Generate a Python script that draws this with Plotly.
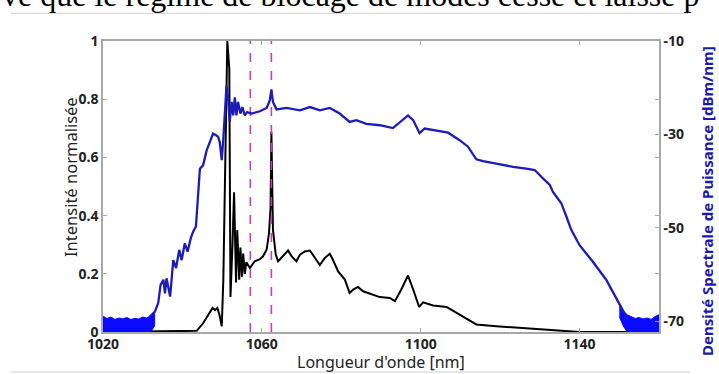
import plotly.graph_objects as go

# ---------------- data ----------------
wl_black = [1020, 1043.6, 1045.2, 1046.9, 1047.6, 1048.2, 1048.8, 1049.3, 1049.9, 1050.3,
            1050.8, 1051.3, 1051.8, 1052.1, 1052.6, 1053.0, 1053.5, 1053.8, 1054.3, 1054.6,
            1055.0, 1055.3, 1055.7, 1056.1, 1057.0, 1058.2, 1059.5, 1060.3, 1061.2, 1061.8,
            1062.2, 1062.4, 1062.8, 1063.5, 1064.1, 1064.9, 1065.8, 1066.6, 1067.5, 1068.7,
            1069.6, 1070.8, 1072.1, 1073.3, 1074.6, 1075.8, 1077.1, 1077.9, 1079.2, 1080.9,
            1082.1, 1083.0, 1084.2, 1085.5, 1087.2, 1089.7, 1092.2, 1093.5, 1095.1, 1096.8,
            1098.1, 1099.6, 1100.6, 1103.1, 1106.5, 1109.8, 1114.0, 1119.0, 1124.9, 1129.9,
            1135.0, 1140, 1160]
int_black = [0, 0.004, 0.03, 0.066, 0.083, 0.075, 0.083, 0.06, 0.02, 0.18,
             0.6, 1.0, 0.905, 0.12, 0.3, 0.48, 0.17, 0.35, 0.18, 0.29,
             0.19, 0.27, 0.20, 0.24, 0.22, 0.243, 0.25, 0.26, 0.283, 0.34,
             0.43, 0.688, 0.35, 0.266, 0.243, 0.254, 0.266, 0.28, 0.26, 0.243,
             0.266, 0.277, 0.28, 0.254, 0.23, 0.254, 0.269, 0.248, 0.208, 0.18,
             0.134, 0.146, 0.155, 0.14, 0.132, 0.12, 0.117, 0.106, 0.146, 0.194,
             0.146, 0.086, 0.102, 0.091, 0.086, 0.06, 0.026, 0.02, 0.014, 0.009,
             0.003, 0, 0]

wl_blue = [1031.8, 1033.1, 1033.9, 1034.5, 1035.2, 1035.6, 1036.0, 1036.9, 1037.7, 1038.4,
           1039.2, 1039.8, 1040.6, 1041.3, 1042.1, 1042.7, 1043.4, 1043.8, 1044.2, 1044.4,
           1045.2, 1046.1, 1046.9, 1047.7, 1048.4, 1049.0, 1049.4, 1049.9, 1050.3, 1050.7,
           1051.1, 1051.5, 1051.9, 1052.4, 1052.8, 1053.2, 1053.6, 1054.0, 1054.6, 1055.1,
           1055.7, 1056.3, 1057.4, 1059.5, 1061.2, 1062.0, 1062.4, 1062.8, 1063.7, 1066.2,
           1069.6, 1072.1, 1074.6, 1077.1, 1079.6, 1082.1, 1083.8, 1086.3, 1089.7, 1093.0,
           1094.7, 1096.8, 1098.1, 1099.7, 1101.0, 1103.9, 1106.9, 1109.8, 1111.9, 1114.0,
           1115.7, 1119.0, 1123.2, 1126.6, 1128.7, 1130.8, 1132.5, 1133.3, 1135.4, 1136.7,
           1137.9, 1140.0, 1143.3, 1146.7, 1149.2, 1150.9, 1152.2]
dsp_blue = [-69.0, -67.9, -66.1, -62.2, -61.1, -64.0, -60.8, -64.7, -56.9, -58.6,
            -54.7, -56.9, -53.3, -55.1, -52.2, -50.8, -49.7, -45.5, -39.8, -37.3,
            -36.6, -33.4, -31.6, -29.8, -30.1, -30.5, -31.6, -35.5, -30.9, -25.9,
            -19.5, -22.3, -27.3, -23.0, -25.9, -22.0, -25.9, -23.0, -25.5, -24.1,
            -25.9, -25.2, -25.5, -25.0, -24.3, -22.7, -20.4, -23.0, -24.6, -24.3,
            -24.8, -24.1, -24.8, -24.3, -25.5, -27.3, -26.9, -27.7, -28.0, -28.6,
            -27.4, -25.9, -26.9, -29.7, -28.7, -29.2, -29.6, -31.2, -32.6, -35.3,
            -35.7, -36.2, -36.9, -37.3, -37.6, -39.4, -40.8, -42.3, -44.7, -47.6,
            -50.4, -53.7, -57.2, -61.1, -65.0, -67.9, -69.7]

# noise floor envelopes (blue band)
noise_left_wl = [1020, 1021, 1022, 1023, 1024, 1025, 1026, 1027, 1028, 1029, 1030, 1031, 1032, 1033]
noise_left_hi = [-68.9, -69.4, -69.1, -69.6, -69.3, -69.5, -69.2, -69.6, -69.4, -69.5, -69.1, -69.3, -68.8, -68.0]
noise_left_lo = [-72.3, -72.3, -72.3, -72.3, -72.3, -72.3, -72.3, -72.3, -72.3, -72.3, -72.3, -72.3, -72.3, -71.0]
noise_right_wl = [1150, 1151, 1152, 1153, 1154, 1155, 1156, 1157, 1158, 1159, 1160]
noise_right_hi = [-66.5, -67.8, -68.6, -69.0, -69.4, -69.2, -69.5, -69.3, -69.6, -69.0, -68.6]
noise_right_lo = [-69.0, -71.0, -72.3, -72.3, -72.3, -72.3, -72.3, -72.3, -72.3, -72.3, -72.3]

laser_lines = [1057.1, 1062.4]

x_ticks = [1020, 1060, 1100, 1140]
y_ticks = [0, 0.2, 0.4, 0.6, 0.8, 1]
y_tick_labels = ["0", "0.2", "0.4", "0.6", "0.8", "1"]
y2_ticks = [-10, -30, -50, -70]

x_title = "Longueur d'onde [nm]"
y_title = "Intensité normalisée"
y2_title = "Densité Spectrale de Puissance [dBm/nm]"
top_text = "ve que le régime de blocage de modes cesse et laisse p"

# ---------------- figure ----------------
BLUE = "#1c1cb8"
NOISE = "#0a0aff"
AX = "#a8a8a8"
W, H = 719, 374
L, R, T, B = 103, 60, 41, 42
pw, ph = W - L - R, H - T - B

def px_x(p):
    return (p - L) / pw

def px_y(p):
    return (H - B - p) / ph

fig = go.Figure()

fig.add_trace(go.Scatter(x=wl_black, y=int_black, mode="lines",
                         line=dict(color="black", width=2), yaxis="y", hoverinfo="skip"))

for v in laser_lines:
    fig.add_trace(go.Scatter(x=[v, v], y=[0, 1], mode="lines",
                             line=dict(color="#c63cc6", width=1.6, dash="dash"),
                             yaxis="y", hoverinfo="skip"))

fig.add_trace(go.Scatter(x=noise_left_wl + noise_left_wl[::-1],
                         y=noise_left_hi + noise_left_lo[::-1],
                         fill="toself", fillcolor=NOISE, mode="lines",
                         line=dict(color=NOISE, width=1), yaxis="y2", hoverinfo="skip"))
fig.add_trace(go.Scatter(x=noise_right_wl + noise_right_wl[::-1],
                         y=noise_right_hi + noise_right_lo[::-1],
                         fill="toself", fillcolor=NOISE, mode="lines",
                         line=dict(color=NOISE, width=1), yaxis="y2", hoverinfo="skip"))
fig.add_trace(go.Scatter(x=wl_blue, y=dsp_blue, mode="lines",
                         line=dict(color=BLUE, width=2.3), yaxis="y2", hoverinfo="skip"))

tickfont = dict(family="Noto Sans", size=14, color="#222222", weight="bold")

fig.update_layout(
    width=W, height=H,
    margin=dict(l=L, r=R, t=T, b=B, pad=0),
    paper_bgcolor="white", plot_bgcolor="white",
    showlegend=False,
    xaxis=dict(range=[1020, 1160], tickvals=x_ticks, ticktext=[str(v) for v in x_ticks],
               showgrid=False, zeroline=False, showline=True, linecolor=AX, linewidth=1.5,
               mirror="ticks", ticks="inside", ticklen=4, tickcolor=AX, tickfont=tickfont,
               ticklabelstandoff=-2),
    yaxis=dict(range=[0, 1], tickvals=y_ticks, ticktext=y_tick_labels,
               showgrid=False, zeroline=False, showline=True, linecolor=AX, linewidth=1.5,
               mirror="ticks", ticks="inside", ticklen=4, tickcolor=AX, tickfont=tickfont,
               ticklabelstandoff=0),
    yaxis2=dict(range=[-72.3, -9.95], tickvals=y2_ticks, ticktext=[str(v) for v in y2_ticks],
                overlaying="y", side="right", showgrid=False, zeroline=False,
                showline=True, linecolor=AX, linewidth=1.5, ticks="inside", ticklen=4,
                tickcolor=AX, tickfont=tickfont, ticklabelstandoff=0),
)

# axis titles as annotations for exact placement
fig.add_annotation(text=x_title, xref="paper", yref="paper", x=px_x(381), y=px_y(362),
                   xanchor="center", yanchor="middle", showarrow=False,
                   font=dict(family="Noto Sans", size=16, color="#222222"))
fig.add_annotation(text=y_title, xref="paper", yref="paper", x=px_x(70), y=px_y(177),
                   xanchor="center", yanchor="middle", showarrow=False, textangle=-90,
                   font=dict(family="Noto Sans", size=16.5, color="#222222"))
fig.add_annotation(text=y2_title, xref="paper", yref="paper", x=px_x(707), y=px_y(201),
                   xanchor="center", yanchor="middle", showarrow=False, textangle=-90,
                   font=dict(family="Noto Sans", size=15, color="#1a1aa8", weight="bold"))

fig.add_annotation(text=top_text, xref="paper", yref="paper",
                   x=px_x(0), y=px_y(-5), xanchor="left", yanchor="middle",
                   showarrow=False, font=dict(family="Liberation Serif", size=32, color="black"))

fig.add_shape(type="line", xref="paper", yref="paper",
              x0=px_x(11), x1=px_x(688), y0=px_y(13.3), y1=px_y(13.3),
              line=dict(color="#cfcfcf", width=1))
fig.add_shape(type="line", xref="paper", yref="paper",
              x0=px_x(688), x1=px_x(690), y0=px_y(13.3), y1=px_y(10),
              line=dict(color="#cfcfcf", width=1))
fig.add_shape(type="line", xref="paper", yref="paper",
              x0=px_x(11), x1=px_x(690), y0=px_y(372), y1=px_y(372),
              line=dict(color="#cfcfcf", width=1))

fig.write_html("out.html", config={"displayModeBar": False},
               post_script="document.body.style.margin='0';document.body.style.overflow='hidden';")
